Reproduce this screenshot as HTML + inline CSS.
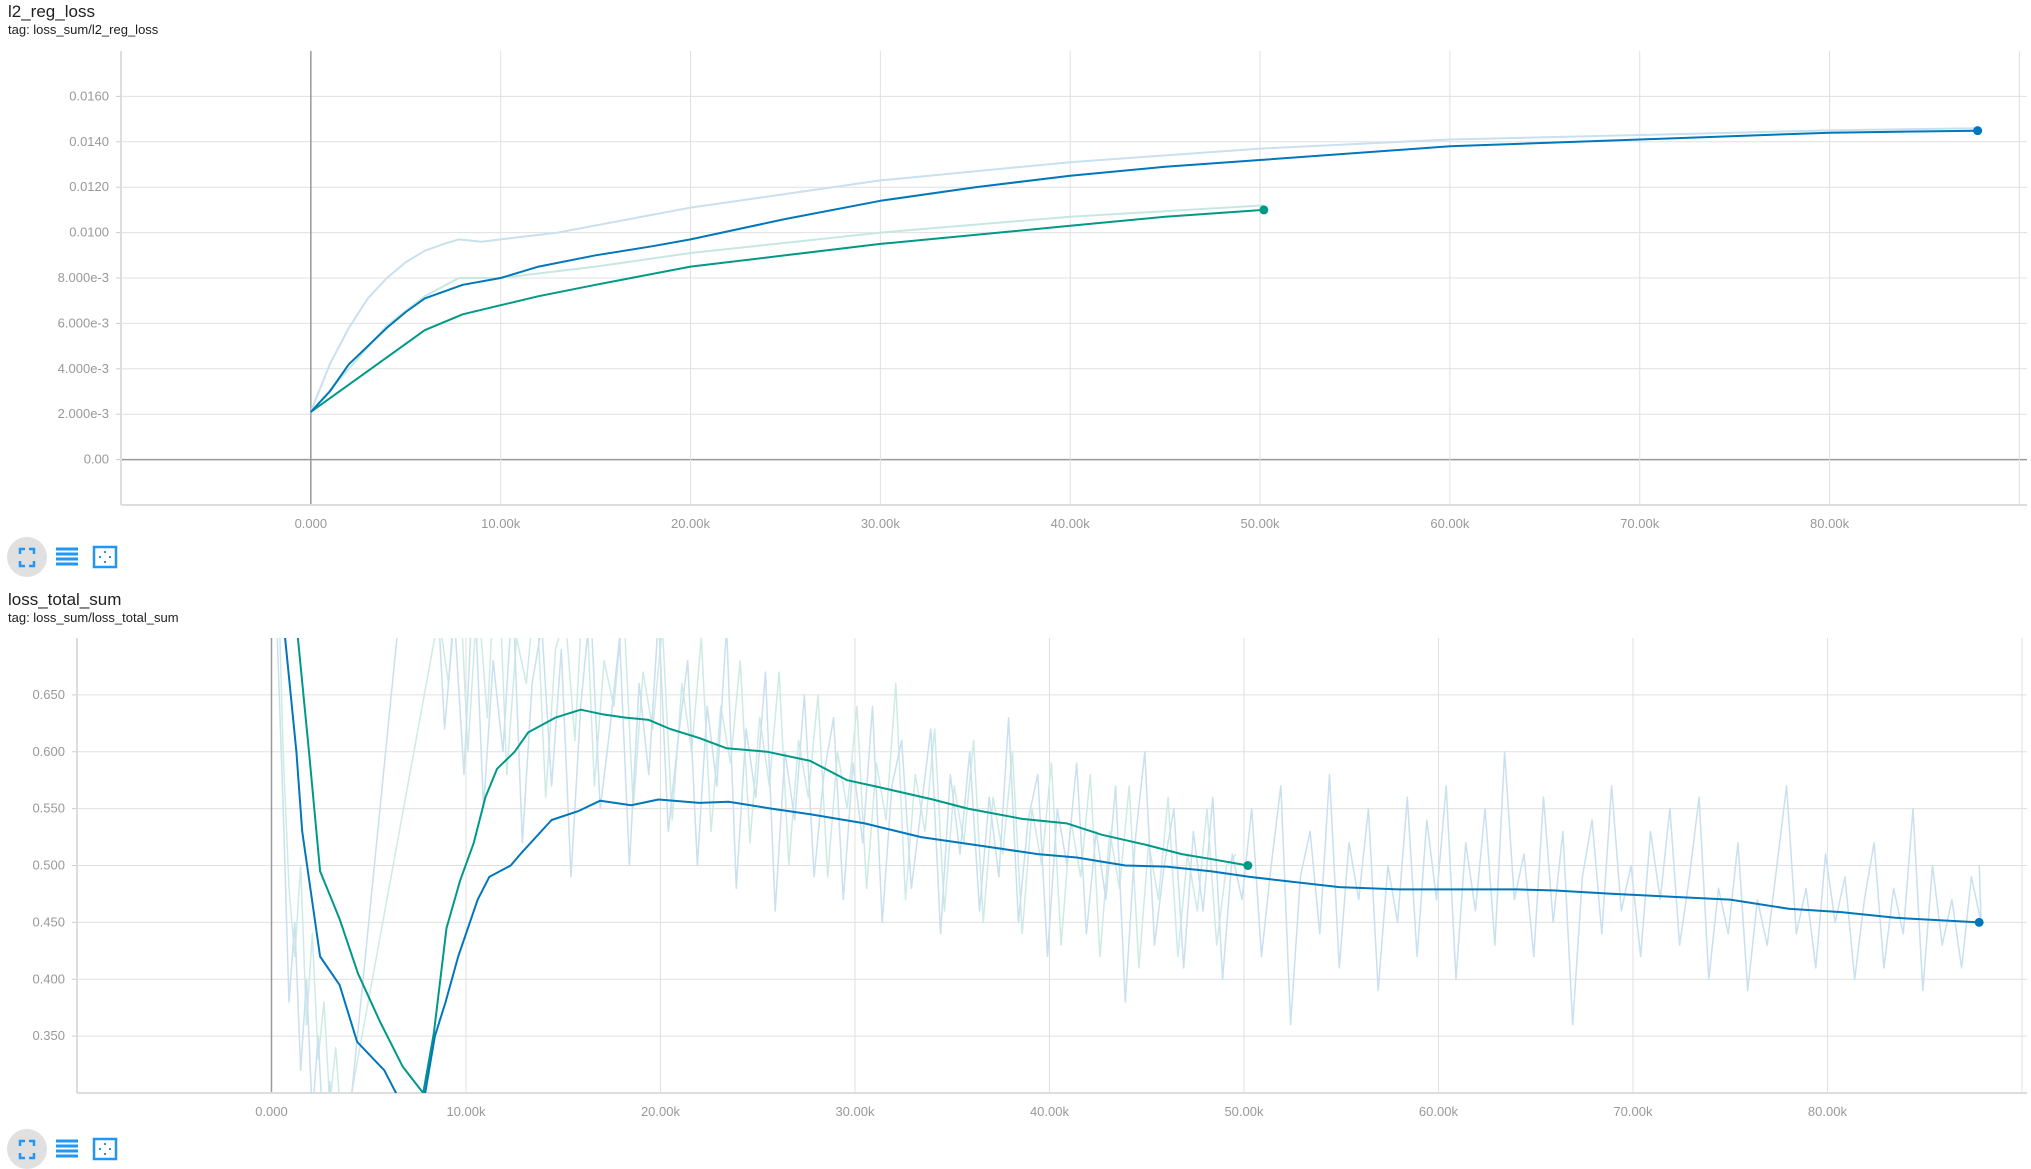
<!DOCTYPE html>
<html><head><meta charset="utf-8">
<style>
body{margin:0;background:#fff;width:2031px;height:1169px;overflow:hidden;font-family:"Liberation Sans",sans-serif;}
svg{position:absolute;left:0;top:0}
.t{font-size:17px;fill:#212121}
.tag{font-size:13px;fill:#212121}
.yl{font-size:13px;fill:#999;text-anchor:end}
.xl{font-size:13px;fill:#999;text-anchor:middle}
</style></head><body>
<svg id="svg" width="2031" height="1169">
<text class="t" x="8" y="17">l2_reg_loss</text>
<text class="tag" x="8" y="34">tag: loss_sum/l2_reg_loss</text>
<text class="t" x="8" y="605">loss_total_sum</text>
<text class="tag" x="8" y="622">tag: loss_sum/loss_total_sum</text>
<g id="c1"></g>
<g id="c2"></g>
<g>
 <g><circle cx="27" cy="557" r="20" fill="#e0e0e0"/><path d="M20 554v-5h5M29 549h5v5M34 561v5h-5M25 566h-5v-5" stroke="#2196f3" stroke-width="2.5" fill="none"/></g>
 <g><path d="M56 549h22M56 554h22M56 559h22M56 564h22" stroke="#2196f3" stroke-width="3"/></g>
 <g><rect x="94" y="547" width="22" height="20" fill="none" stroke="#2196f3" stroke-width="2.5"/><path d="M99 557h2M109 557h2M105 551v2M105 561v2" stroke="#2196f3" stroke-width="2"/></g>
</g>
<g>
 <g><circle cx="27" cy="1149" r="20" fill="#e0e0e0"/><path d="M20 1146v-5h5M29 1141h5v5M34 1153v5h-5M25 1158h-5v-5" stroke="#2196f3" stroke-width="2.5" fill="none"/></g>
 <g><path d="M56 1141h22M56 1146h22M56 1151h22M56 1156h22" stroke="#2196f3" stroke-width="3"/></g>
 <g><rect x="94" y="1139" width="22" height="20" fill="none" stroke="#2196f3" stroke-width="2.5"/><path d="M99 1149h2M109 1149h2M105 1143v2M105 1153v2" stroke="#2196f3" stroke-width="2"/></g>
</g>
</svg>
<script>
// ---------- chart 1 data ----------
const c1YTicks=[0,0.002,0.004,0.006,0.008,0.010,0.012,0.014,0.016];
const c1YLabels=["0.00","2.000e-3","4.000e-3","6.000e-3","8.000e-3","0.0100","0.0120","0.0140","0.0160"];
const xTicks=[0,10000,20000,30000,40000,50000,60000,70000,80000];
const xLabels=["0.000","10.00k","20.00k","30.00k","40.00k","50.00k","60.00k","70.00k","80.00k"];
const c1BlueSmoothX=[0,1000,2000,3000,4000,5000,6000,8000,10000,12000,15000,18000,20000,25000,30000,35000,40000,45000,50000,60000,70000,80000,87800];
const c1BlueSmoothY=[0.0021,0.0030,0.0042,0.0050,0.0058,0.0065,0.0071,0.0077,0.0080,0.0085,0.0090,0.0094,0.0097,0.0106,0.0114,0.0120,0.0125,0.0129,0.0132,0.0138,0.0141,0.0144,0.01449];
const c1BlueRawX=[0,1000,2000,3000,4000,5000,6000,7000,7800,9000,10000,13000,20000,30000,40000,50000,60000,70000,80000,87800];
const c1BlueRawY=[0.0021,0.0042,0.0058,0.0071,0.0080,0.0087,0.0092,0.0095,0.0097,0.0096,0.0097,0.0100,0.0111,0.0123,0.0131,0.0137,0.0141,0.0143,0.0145,0.0146];
const c1GreenSmoothX=[0,2000,4000,6000,8000,10000,12000,15000,20000,25000,30000,35000,40000,45000,50200];
const c1GreenSmoothY=[0.0021,0.0033,0.0045,0.0057,0.0064,0.0068,0.0072,0.0077,0.0085,0.0090,0.0095,0.0099,0.0103,0.0107,0.0110];
const c1GreenRawX=[0,2000,4000,6000,7800,10000,15000,20000,30000,40000,50200];
const c1GreenRawY=[0.0021,0.0040,0.0059,0.0072,0.0080,0.0080,0.0085,0.0091,0.0100,0.0107,0.0112];
// ---------- chart 2 data ----------
const c2YTicks=[0.35,0.40,0.45,0.50,0.55,0.60,0.65];
const c2YLabels=["0.350","0.400","0.450","0.500","0.550","0.600","0.650"];
const c2BlueSmoothX=[0,700,1280,1580,2500,3500,4400,5800,6400,7000,7800,8400,8950,9600,10600,11200,12300,12800,14400,15800,16900,18500,19900,22000,23500,25700,27700,30500,33400,36200,39400,41400,43900,46000,48300,50300,54900,58000,60000,64000,66000,69000,75000,78000,80700,83500,87800];
const c2BlueSmoothY=[0.78,0.70,0.60,0.53,0.42,0.395,0.345,0.32,0.30,0.28,0.29,0.35,0.38,0.42,0.47,0.49,0.50,0.51,0.54,0.548,0.557,0.553,0.558,0.555,0.556,0.55,0.545,0.537,0.525,0.518,0.51,0.507,0.50,0.499,0.495,0.49,0.481,0.479,0.479,0.479,0.478,0.475,0.47,0.462,0.459,0.454,0.450];
const c2GreenSmoothX=[0,1360,1930,2500,3500,4450,5600,6750,7800,8350,9000,9700,10400,11000,11600,12500,13200,14600,15900,17000,18200,19400,20500,22000,23400,25500,27700,29600,31200,34000,35800,38600,40900,42700,45000,46800,48200,50200];
const c2GreenSmoothY=[0.85,0.70,0.60,0.495,0.453,0.405,0.362,0.323,0.30,0.353,0.445,0.487,0.52,0.56,0.585,0.60,0.617,0.63,0.637,0.633,0.63,0.628,0.62,0.612,0.603,0.60,0.592,0.575,0.569,0.558,0.55,0.541,0.537,0.527,0.518,0.51,0.506,0.50];
const c2BlueEarlyX=[0,300,600,900,1200,1500,1800,2100,2400,2700,3000,3300,3600,3900];
const c2BlueEarlyY=[0.90,0.70,0.55,0.38,0.45,0.32,0.40,0.28,0.35,0.25,0.31,0.22,0.28,0.26];
const c2GreenEarlyX=[0,300,600,900,1200,1500,1800,2100,2400,2700,3000,3300,3600,3800];
const c2GreenEarlyY=[0.95,0.78,0.60,0.48,0.42,0.50,0.36,0.44,0.33,0.38,0.29,0.34,0.27,0.27];
const c2BlueRawStart=7900, c2BlueRawStep=500;
const c2BlueRawY=[0.95,0.78,0.62,0.72,0.58,0.76,0.55,0.68,0.60,0.74,0.52,0.66,0.71,0.57,0.69,0.49,0.64,0.73,0.55,0.62,0.70,0.50,0.66,0.58,0.72,0.53,0.61,0.68,0.50,0.64,0.57,0.71,0.48,0.62,0.56,0.67,0.46,0.60,0.54,0.65,0.49,0.58,0.63,0.47,0.59,0.52,0.64,0.45,0.57,0.61,0.48,0.55,0.62,0.44,0.58,0.51,0.60,0.46,0.56,0.49,0.63,0.45,0.54,0.58,0.42,0.55,0.50,0.59,0.44,0.53,0.47,0.57,0.38,0.52,0.60,0.43,0.50,0.55,0.41,0.53,0.46,0.56,0.40,0.51,0.47,0.55,0.42,0.50,0.57,0.36,0.49,0.53,0.44,0.58,0.41,0.52,0.47,0.55,0.39,0.50,0.45,0.56,0.42,0.54,0.47,0.57,0.40,0.52,0.46,0.55,0.43,0.60,0.47,0.51,0.42,0.56,0.45,0.53,0.36,0.49,0.54,0.44,0.57,0.46,0.50,0.42,0.53,0.47,0.55,0.43,0.49,0.56,0.40,0.48,0.44,0.52,0.39,0.47,0.43,0.50,0.57,0.44,0.48,0.41,0.51,0.45,0.49,0.40,0.47,0.52,0.41,0.48,0.44,0.55,0.39,0.50,0.43,0.47,0.41,0.49,0.45];
const c2GreenRawStart=8600, c2GreenRawStep=500;
const c2GreenRawY=[0.72,0.66,0.78,0.60,0.74,0.63,0.80,0.58,0.70,0.66,0.75,0.56,0.69,0.72,0.61,0.77,0.57,0.68,0.64,0.73,0.55,0.67,0.62,0.71,0.54,0.66,0.60,0.70,0.53,0.64,0.59,0.68,0.52,0.63,0.57,0.67,0.50,0.61,0.56,0.65,0.49,0.60,0.55,0.64,0.48,0.59,0.54,0.66,0.47,0.58,0.53,0.62,0.46,0.57,0.52,0.61,0.45,0.56,0.51,0.60,0.44,0.55,0.50,0.59,0.43,0.54,0.49,0.58,0.42,0.53,0.48,0.57,0.41,0.52,0.47,0.56,0.42,0.51,0.46,0.55,0.43,0.50,0.51];

const NS="http://www.w3.org/2000/svg";
function mk(parent,tag,attrs){const e=document.createElementNS(NS,tag);for(const k in attrs)e.setAttribute(k,attrs[k]);parent.appendChild(e);return e;}

function chart(g,cfg){
  const {L,R,T,B,x0,x1,y0,y1}=cfg;
  const sx=v=>L+(v-x0)/(x1-x0)*(R-L);
  const sy=v=>B-(v-y0)/(y1-y0)*(B-T);
  const cid='clip'+cfg.id;
  const d=mk(g,'defs',{});const cp=mk(d,'clipPath',{id:cid});mk(cp,'rect',{x:L,y:T,width:R-L,height:B-T});
  // grid
  cfg.yTicks.forEach((v,i)=>{
    const gl=mk(g,'line',{x1:L,x2:R,y1:sy(v),y2:sy(v),stroke:v===0?'#999':'#e0e0e0','stroke-width':v===0?1.5:1});
    
    
    const t=mk(g,'text',{x:L-12,y:sy(v)+4,class:'yl'});t.textContent=cfg.yLabels[i];
    
    
    mk(g,'line',{x1:L-5,x2:L,y1:sy(v),y2:sy(v),stroke:'#ccc'});
  });
  xTicks.forEach((v,i)=>{
    const gl=mk(g,'line',{x1:sx(v),x2:sx(v),y1:T,y2:B,stroke:v===0?'#999':'#e0e0e0','stroke-width':v===0?1.5:1});
    
    
    const t=mk(g,'text',{x:sx(v),y:B+23,class:'xl'});t.textContent=xLabels[i];
    
    
  });
  mk(g,'line',{x1:sx(90000),x2:sx(90000),y1:T,y2:B,stroke:'#e0e0e0'});
  mk(g,'line',{x1:L,x2:L,y1:T,y2:B,stroke:'#ddd','stroke-width':2});
  mk(g,'line',{x1:L,x2:R,y1:B,y2:B,stroke:'#ddd','stroke-width':2});
  const pg=mk(g,'g',{'clip-path':`url(#${cid})`});
  cfg.series.forEach(s=>{
    const p=s.xs.map((x,i)=>`${i?'L':'M'}${sx(x).toFixed(1)},${sy(s.ys[i]).toFixed(1)}`).join('');
    const pe=mk(pg,'path',{d:p,fill:'none',stroke:s.c,'stroke-width':s.w,'stroke-linejoin':'round'});
    
    
    if(s.dot){const c=mk(g,'circle',{cx:sx(s.xs[s.xs.length-1]),cy:sy(s.ys[s.ys.length-1]),r:4.5,fill:s.c});
      
      }
  });
}
const seqX=(start,step,n)=>Array.from({length:n},(_,i)=>start+i*step);
const c2BlueRawX=c2BlueEarlyX.concat(seqX(c2BlueRawStart,c2BlueRawStep,c2BlueRawY.length),[87800]);
const c2BlueRawAll=c2BlueEarlyY.concat(c2BlueRawY,[0.50]);
const c2GreenRawX=c2GreenEarlyX.concat(seqX(c2GreenRawStart,c2GreenRawStep,c2GreenRawY.length));
const c2GreenRawAll=c2GreenEarlyY.concat(c2GreenRawY);

chart(document.getElementById('c1'),{id:1,L:121,R:2027,T:51,B:505,x0:-10000,x1:90400,y0:-0.002,y1:0.018,
  yTicks:c1YTicks,yLabels:c1YLabels,
  series:[
   {xs:c1BlueRawX,ys:c1BlueRawY,c:'#c9e0ef',w:2,n:'blue-raw-line'},
   {xs:c1GreenRawX,ys:c1GreenRawY,c:'#c6e8e1',w:2,n:'green-raw-line'},
   {xs:c1GreenSmoothX,ys:c1GreenSmoothY,c:'#009988',w:2,n:'green-smoothed-line',dot:1},
   {xs:c1BlueSmoothX,ys:c1BlueSmoothY,c:'#0077bb',w:2,n:'blue-smoothed-line',dot:1}
  ]});
chart(document.getElementById('c2'),{id:2,L:77,R:2027,T:638,B:1093,x0:-10000,x1:90260,y0:0.30,y1:0.70,
  yTicks:c2YTicks,yLabels:c2YLabels,
  series:[
   {xs:c2GreenRawX,ys:c2GreenRawAll,c:'#cdebe5',w:1.5,n:'green-raw-line'},
   {xs:c2BlueRawX,ys:c2BlueRawAll,c:'#c8e0ef',w:1.5,n:'blue-raw-line'},
   {xs:c2GreenSmoothX,ys:c2GreenSmoothY,c:'#009988',w:2,n:'green-smoothed-line',dot:1},
   {xs:c2BlueSmoothX,ys:c2BlueSmoothY,c:'#0077bb',w:2,n:'blue-smoothed-line',dot:1}
  ]});
</script>
</body></html>
